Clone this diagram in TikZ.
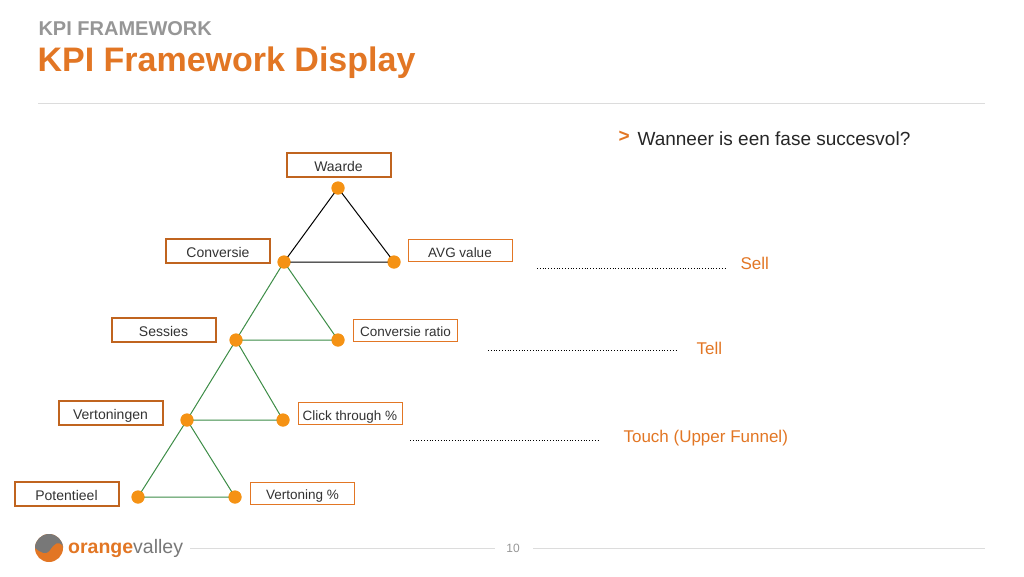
\documentclass[tikz,border=0pt]{standalone}
\usepackage{fontspec}
\setmainfont{Liberation Sans}
\definecolor{org}{RGB}{226,118,36}
\definecolor{dot}{RGB}{245,146,20}
\definecolor{grn}{RGB}{60,140,70}
\definecolor{gr}{RGB}{150,150,150}
\definecolor{ln}{RGB}{220,220,220}
\definecolor{tx}{RGB}{50,50,50}
\begin{document}
\begin{tikzpicture}[x=1pt,y=-1pt,
 lb/.style={draw=org!85!black,line width=2pt,minimum height=24pt,minimum width=104pt,font=\fontsize{14}{14}\selectfont,text=tx,inner sep=0pt,text height=13pt,text depth=0pt},
 rb/.style={draw=org,line width=1pt,minimum height=22pt,minimum width=104pt,font=\fontsize{13.5}{14}\selectfont,text=tx,inner sep=0pt,text height=13pt,text depth=0pt},
 pt/.style={circle,fill=dot,minimum size=13pt,inner sep=0pt},
 dl/.style={dotted,line width=0.8pt},
 ph/.style={text=org,font=\fontsize{17}{17}\selectfont,anchor=west}]
\useasboundingbox (0,0) rectangle (1024,576);
\node[anchor=west,text=gr,font=\bfseries\fontsize{20}{20}\selectfont] (h1) at (35,29) {KPI FRAMEWORK};
\node[anchor=west,text=org,font=\bfseries\fontsize{34}{34}\selectfont] (h2) at (34,63) {KPI Framework Display};
\draw[ln,line width=1pt] (38,103) -- (985,103);
\node[anchor=west,text=org,font=\bfseries\fontsize{19}{19}\selectfont] (ar) at (615,137) {\textgreater};
\node[anchor=west,font=\fontsize{19}{19}\selectfont,text=black!85] (q) at (634,139) {Wanneer is een fase succesvol?};
% dots
\node[pt] (w) at (338,188) {};
\node[pt] (c) at (284,262) {};
\node[pt] (a) at (394,262) {};
\node[pt] (s) at (236,340) {};
\node[pt] (cr) at (338,340) {};
\node[pt] (v) at (187,420) {};
\node[pt] (ct) at (283,420) {};
\node[pt] (p) at (138,497) {};
\node[pt] (vp) at (235,497) {};
\draw[black,line width=1pt] (w.center) -- (c.center) -- (a.center) -- cycle;
\draw[grn,line width=1pt] (c.center) -- (s.center) -- (cr.center) -- cycle;
\draw[grn,line width=1pt] (s.center) -- (v.center) -- (ct.center) -- cycle;
\draw[grn,line width=1pt] (v.center) -- (p.center) -- (vp.center) -- cycle;
\foreach \n in {w,c,a,s,cr,v,ct,p,vp}{\fill[dot] (\n) circle (6.5pt);}
% boxes
\node[lb] (bw) at (338.5,164.5) {Waarde};
\node[lb] (bc) at (218,251) {Conversie};
\node[rb] (ba) at (460,250.5) {AVG value};
\node[lb] (bs) at (163.5,330) {Sessies};
\node[rb] (bcr) at (405.5,330) {Conversie ratio};
\node[lb] (bv) at (110.5,413) {Vertoningen};
\node[rb] (bct) at (350,413.5) {Click through \%};
\node[lb] (bp) at (66.5,493.5) {Potentieel};
\node[rb] (bvp) at (302.5,493) {Vertoning \%};
% phases
\coordinate (d1a) at (537,268); \coordinate (d1b) at (725,268);
\coordinate (d2a) at (488,350); \coordinate (d2b) at (676,350);
\coordinate (d3a) at (410,440); \coordinate (d3b) at (598,440);
\draw[dl] (d1a) -- (d1b);
\draw[dl] (d2a) -- (d2b);
\draw[dl] (d3a) -- (d3b);
\node[ph] (sell) at (737,263) {Sell};
\node[ph] (tell) at (693,348) {Tell};
\node[ph] (touch) at (620,438) {Touch (Upper Funnel)};
% footer
\draw[ln,line width=1pt] (190,548) -- (495,548);
\draw[ln,line width=1pt] (533,548) -- (985,548);
\node[text=gr,font=\fontsize{12}{12}\selectfont] (pg) at (513,548) {10};
\fill[org] (49,548) circle (14pt);
\fill[gr!80!black] (35,548) arc (180:0:14pt) -- (63,546) .. controls (58,540) and (54,544) .. (50,550) .. controls (46,556) and (40,552) .. (35,548) -- cycle;
\node[anchor=west,inner sep=0pt,font=\fontsize{19.5}{20}\selectfont] (logo) at (68,548) {\textcolor{org}{\bfseries orange}\textcolor{gr!80!black}{valley}};
\end{tikzpicture}
\end{document}
